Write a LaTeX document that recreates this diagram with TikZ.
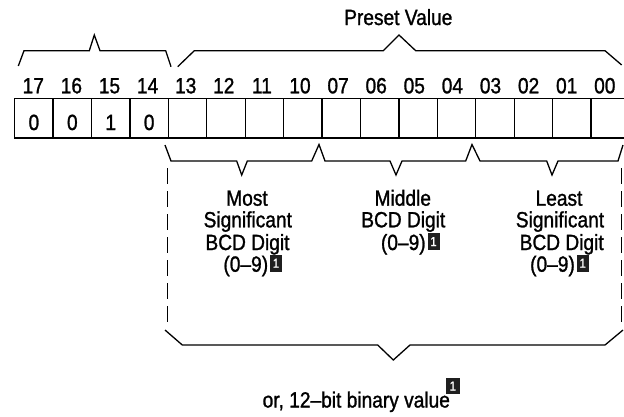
\documentclass[tikz,border=0pt]{standalone}
\usepackage{fontspec}
\setmainfont{Liberation Sans}[FakeStretch=0.87,FakeBold=1.2]
\begin{document}
\begin{tikzpicture}[x=1pt,y=-1pt,
  lbl/.style={inner sep=0pt, anchor=base, font=\fontsize{22}{22}\selectfont},
  badge/.style={fill=black!88, text=white, inner sep=0pt, minimum width=12pt,
    minimum height=16.5pt, anchor=south west, font=\fontsize{13}{13}\selectfont},
  brace/.style={line width=1.3pt, line join=miter},
  cellbox/.style={line width=1.3pt},
  dashline/.style={line width=1.6pt, dash pattern=on 16pt off 7pt}]
\useasboundingbox (0,0) rectangle (624,416);
\clip (0,0) rectangle (624,416);
% cells
\foreach \i in {0,...,15}
  \draw[cellbox] (14.7+38.42*\i,98.5) rectangle ++(38.42,39.5);
% bit numbers
\foreach \t [count=\i from 0] in {17,16,15,14,13,12,11,10,07,06,05,04,03,02,01,00}
  \node[lbl] (n\i) at (33.3+38.1*\i,93.3) {\t};
% bit values
\foreach \t [count=\i from 0] in {0,0,1,0}
  \node[lbl] (v\i) at (33.9+38.42*\i,130) {\t};
% top braces
\draw[brace] (18.3,66) -- (24,50.7) -- (89.3,50.7) -- (94.3,35) -- (100,50.7)
  -- (165.7,50.7) -- (171,66.7);
\draw[brace] (177.7,66.7) -- (194.3,50.7) -- (383.3,50.7) -- (399,35) -- (415.7,50.7)
  -- (605,50.7) -- (621.7,65);
\node[lbl] (pv) at (398.3,25) {Preset Value};
% lower small braces
\draw[brace] (165,145) -- (171,161) -- (236.7,161) -- (241.7,175) -- (247.3,161)
  -- (311.7,161) -- (319,144.5) -- (325,161) -- (390,161) -- (396,175) -- (402,161)
  -- (465.7,161) -- (472,144.5) -- (480,161) -- (546.7,161) -- (552,175) -- (558,161)
  -- (618,161) -- (623,145);
% dashed sides
\draw[dashline] (167.3,168) -- (167.3,322);
\draw[dashline] (621.5,168) -- (621.5,322);
% big brace
\draw[brace] (165,330) -- (182.3,345) -- (377.7,345) -- (393.3,360) -- (410,345)
  -- (605,345) -- (623,330);
% Most significant
\node[lbl] (m1) at (247,205.7) {Most};
\node[lbl] (m2) at (247.8,227.3) {Significant};
\node[lbl] (m3) at (247.5,250) {BCD Digit};
\node[lbl] (m4) at (245.8,271.7) {(0–9)};
\node[badge] (mb) at ([xshift=1.5pt]m4.base east) {1};
% Middle
\node[lbl] (d1) at (402.8,205.7) {Middle};
\node[lbl] (d2) at (403.3,227.3) {BCD Digit};
\node[lbl] (d3) at (403.3,250) {(0–9)};
\node[badge] (db) at ([xshift=1.5pt]d3.base east) {1};
% Least
\node[lbl] (l1) at (559,205.7) {Least};
\node[lbl] (l2) at (560,227.3) {Significant};
\node[lbl] (l3) at (561.7,250) {BCD Digit};
\node[lbl] (l4) at (552.5,271.7) {(0–9)};
\node[badge] (lb) at ([xshift=1.5pt]l4.base east) {1};
% bottom
\node[lbl] (bt) at (356.3,407.5) {or, 12–bit binary value};
\node[badge, minimum width=14pt, minimum height=15.5pt] (bb) at ([xshift=-4.5pt,yshift=13.5pt]bt.base east) {1};
\end{tikzpicture}
\end{document}
